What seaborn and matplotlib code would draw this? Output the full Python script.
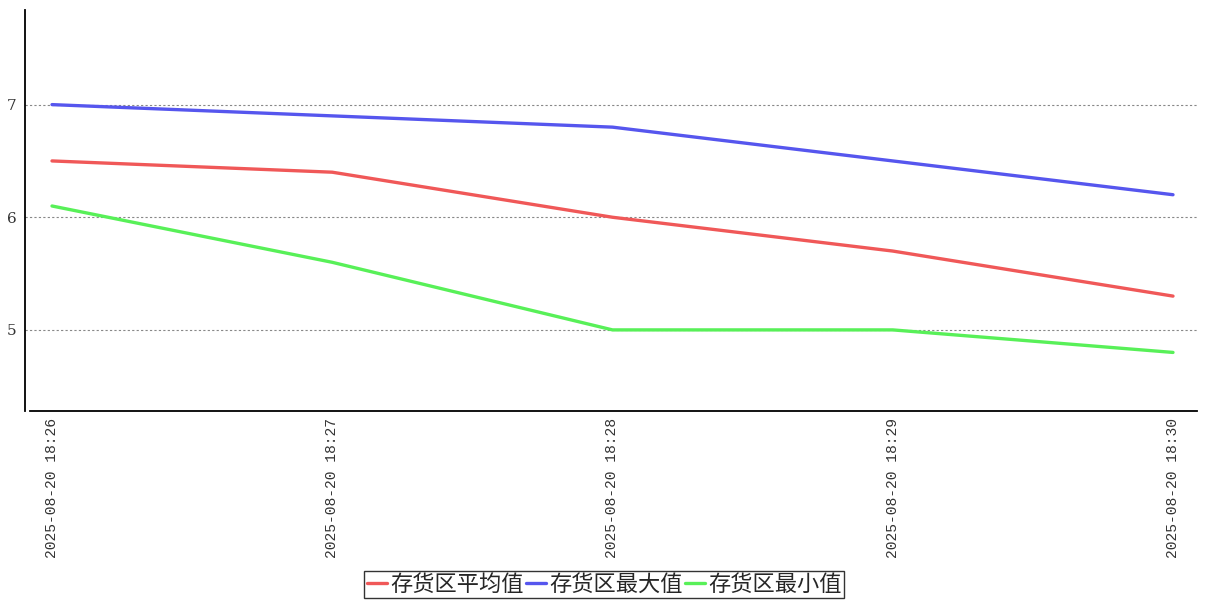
import matplotlib
matplotlib.use("Agg")
import matplotlib.pyplot as plt
import seaborn as sns
import pandas as pd

times = ["2025-08-20 18:26", "2025-08-20 18:27", "2025-08-20 18:28",
         "2025-08-20 18:29", "2025-08-20 18:30"]
series_names = ["存货区平均值", "存货区最大值", "存货区最小值"]
avg_vals = [6.5, 6.4, 6.0, 5.7, 5.3]
max_vals = [7.0, 6.9, 6.8, 6.5, 6.2]
min_vals = [6.1, 5.6, 5.0, 5.0, 4.8]
colors = ["#f05858", "#5656ee", "#58f058"]

rows = []
for name, vals in zip(series_names, [avg_vals, max_vals, min_vals]):
    for i, v in enumerate(vals):
        rows.append({"idx": i, "value": v, "series": name})
df = pd.DataFrame(rows)

sns.set_style("white")
plt.rcParams['font.family'] = ['Noto Sans CJK SC', 'DejaVu Sans']

fig = plt.figure(figsize=(12.07, 6.0), dpi=100)
ax = fig.add_axes([25/1207, 1 - 411/600, (1197 - 25)/1207, (411 - 10)/600])

sns.lineplot(data=df, x="idx", y="value", hue="series", hue_order=series_names,
             palette=colors, linewidth=2.4, ax=ax, legend=True)

ax.set_xlim(-27/280.25, 4 + 24/280.25)
ax.set_ylim(4.28, 7.84)
ax.set_xticks(range(len(times)))
ax.set_xticklabels(times, rotation=90, family=['Liberation Mono'], fontsize=10.5, color="#333333")
ax.set_yticks([5, 6, 7])
ax.set_yticklabels(["5", "6", "7"], family=['DejaVu Serif'], fontsize=11, color="#333333")
ax.set_xlabel("")
ax.set_ylabel("")
ax.grid(axis="y", linestyle=(0, (2, 2)), color="#888888", linewidth=0.8)
ax.grid(axis="x", visible=False)
ax.set_axisbelow(True)
for s in ["top", "right"]:
    ax.spines[s].set_visible(False)
ax.spines["left"].set_color("black")
ax.spines["bottom"].set_color("black")
ax.spines["left"].set_linewidth(1.3)
ax.spines["bottom"].set_linewidth(1.3)
ax.spines["bottom"].set_bounds(-22/280.25, 4 + 24/280.25)
ax.tick_params(axis="x", length=3, width=0.8, color="#999999", pad=2)
ax.tick_params(axis="y", length=0, pad=6)

handles, labels = ax.get_legend_handles_labels()
ax.get_legend().remove()
leg = fig.legend(handles, labels, loc="lower center", bbox_to_anchor=(604/1207, 2/600),
                 ncol=3, frameon=True, fancybox=False, edgecolor="black", fontsize=16,
                 handlelength=0.9, handletextpad=0.15, columnspacing=0.1, borderpad=0.1,
                 borderaxespad=0)
leg.get_frame().set_linewidth(1.0)

fig.savefig("out.png", dpi=100)
